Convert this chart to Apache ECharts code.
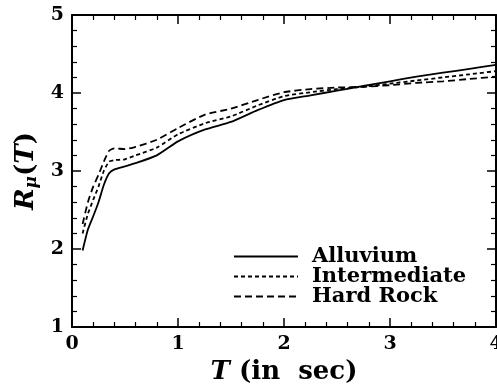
<!DOCTYPE html>
<html>
<head>
<meta charset="utf-8">
<script src="https://cdn.jsdelivr.net/npm/echarts@6/dist/echarts.min.js"></script>
<style>
  html, body { margin: 0; padding: 0; background: #fff; }
  #chart { width: 497px; height: 387px; }
</style>
</head>
<body>
<div id="chart"></div>
<script>
// 周期 T (秒)
var periods = [0.1, 0.15, 0.2, 0.25, 0.3, 0.35, 0.4, 0.5, 0.6, 0.8, 1.0, 1.25, 1.5, 1.75, 2.0, 2.25, 2.5, 2.75, 3.0, 3.25, 3.5, 3.75, 4.0];
var alluvium = [1.98, 2.25, 2.42, 2.6, 2.82, 2.97, 3.02, 3.06, 3.1, 3.2, 3.38, 3.53, 3.63, 3.78, 3.91, 3.97, 4.03, 4.09, 4.15, 4.21, 4.26, 4.31, 4.36];
var intermediate = [2.2, 2.45, 2.63, 2.8, 3.0, 3.12, 3.14, 3.15, 3.2, 3.3, 3.47, 3.61, 3.7, 3.84, 3.96, 4.01, 4.05, 4.08, 4.12, 4.16, 4.2, 4.24, 4.28];
var hardRock = [2.32, 2.6, 2.8, 2.95, 3.12, 3.26, 3.29, 3.28, 3.31, 3.4, 3.55, 3.72, 3.8, 3.91, 4.01, 4.05, 4.07, 4.08, 4.1, 4.13, 4.15, 4.18, 4.21];
var seriesNames = ['Alluvium', 'Intermediate', 'Hard Rock'];

function pairs(ys) {
    return periods.map(function (t, i) { return [t, ys[i]]; });
}

var serif = 'DejaVu Serif';
var chart = echarts.init(document.getElementById('chart'), null, {renderer: 'canvas'});

var frameAxis = function (pos, showLabel) {
    return {
        axisLine: {show: true, onZero: false, lineStyle: {color: '#000', width: 2}},
        axisTick: {show: true, inside: true, length: 9, lineStyle: {color: '#000', width: 1.5}},
        minorTick: {show: true, splitNumber: 5, length: 5, lineStyle: {color: '#000', width: 1.2}},
        splitLine: {show: false},
        axisLabel: {
            show: showLabel,
            color: '#000',
            fontFamily: serif,
            fontWeight: 'bold',
            fontSize: 19,
            margin: 8
        },
        position: pos
    };
};

var xBottom = Object.assign(frameAxis('bottom', true), {
    type: 'value', min: 0, max: 4, interval: 1,
    name: '{it|T}{rm| (in  sec)}',
    nameLocation: 'middle',
    nameGap: 30,
    nameTextStyle: {
        rich: {
            it: {fontFamily: serif, fontStyle: 'italic', fontWeight: 'bold', fontSize: 26, color: '#000'},
            rm: {fontFamily: serif, fontWeight: 'bold', fontSize: 26, color: '#000'}
        }
    }
});
var xTop = Object.assign(frameAxis('top', false), {type: 'value', min: 0, max: 4, interval: 1});

var yLeft = Object.assign(frameAxis('left', true), {
    type: 'value', min: 1, max: 5, interval: 1,
    name: '{it|R}{sub|μ}{rm|(}{it|T}{rm|)}',
    nameLocation: 'middle',
    nameGap: 29,
    nameRotate: 90,
    nameTextStyle: {
        rich: {
            it: {fontFamily: serif, fontStyle: 'italic', fontWeight: 'bold', fontSize: 26, color: '#000'},
            rm: {fontFamily: serif, fontWeight: 'bold', fontSize: 26, color: '#000'},
            sub: {fontFamily: serif, fontStyle: 'italic', fontWeight: 'bold', fontSize: 17, color: '#000', verticalAlign: 'bottom', padding: [10, 0, 0, 0]}
        }
    }
});
var yRight = Object.assign(frameAxis('right', false), {type: 'value', min: 1, max: 5, interval: 1});

var option = {
    backgroundColor: '#fff',
    animation: false,
    grid: {left: 72, right: 1, top: 15, bottom: 60, containLabel: false, outerBoundsMode: 'none'},
    legend: {
        orient: 'vertical',
        left: 228,
        top: 241,
        itemWidth: 64,
        itemHeight: 12,
        itemGap: -1,
        data: seriesNames,
        itemStyle: {opacity: 0},
        textStyle: {
            fontFamily: serif,
            fontWeight: 'bold',
            fontSize: 21,
            lineHeight: 18,
            color: '#000',
            padding: [0, 0, 0, 9]
        }
    },
    xAxis: [xBottom, xTop],
    yAxis: [yLeft, yRight],
    series: [
        {
            name: seriesNames[0],
            type: 'line',
            symbol: 'none',
            smooth: 0.2,
            data: pairs(alluvium),
            itemStyle: {color: '#000'},
            lineStyle: {color: '#000', width: 1.8, type: 'solid'}
        },
        {
            name: seriesNames[1],
            type: 'line',
            symbol: 'none',
            smooth: 0.2,
            data: pairs(intermediate),
            itemStyle: {color: '#000'},
            lineStyle: {color: '#000', width: 1.8, type: [4, 3]}
        },
        {
            name: seriesNames[2],
            type: 'line',
            symbol: 'none',
            smooth: 0.2,
            data: pairs(hardRock),
            itemStyle: {color: '#000'},
            lineStyle: {color: '#000', width: 1.8, type: [7, 4]}
        }
    ]
};
chart.setOption(option);
</script>
</body>
</html>
